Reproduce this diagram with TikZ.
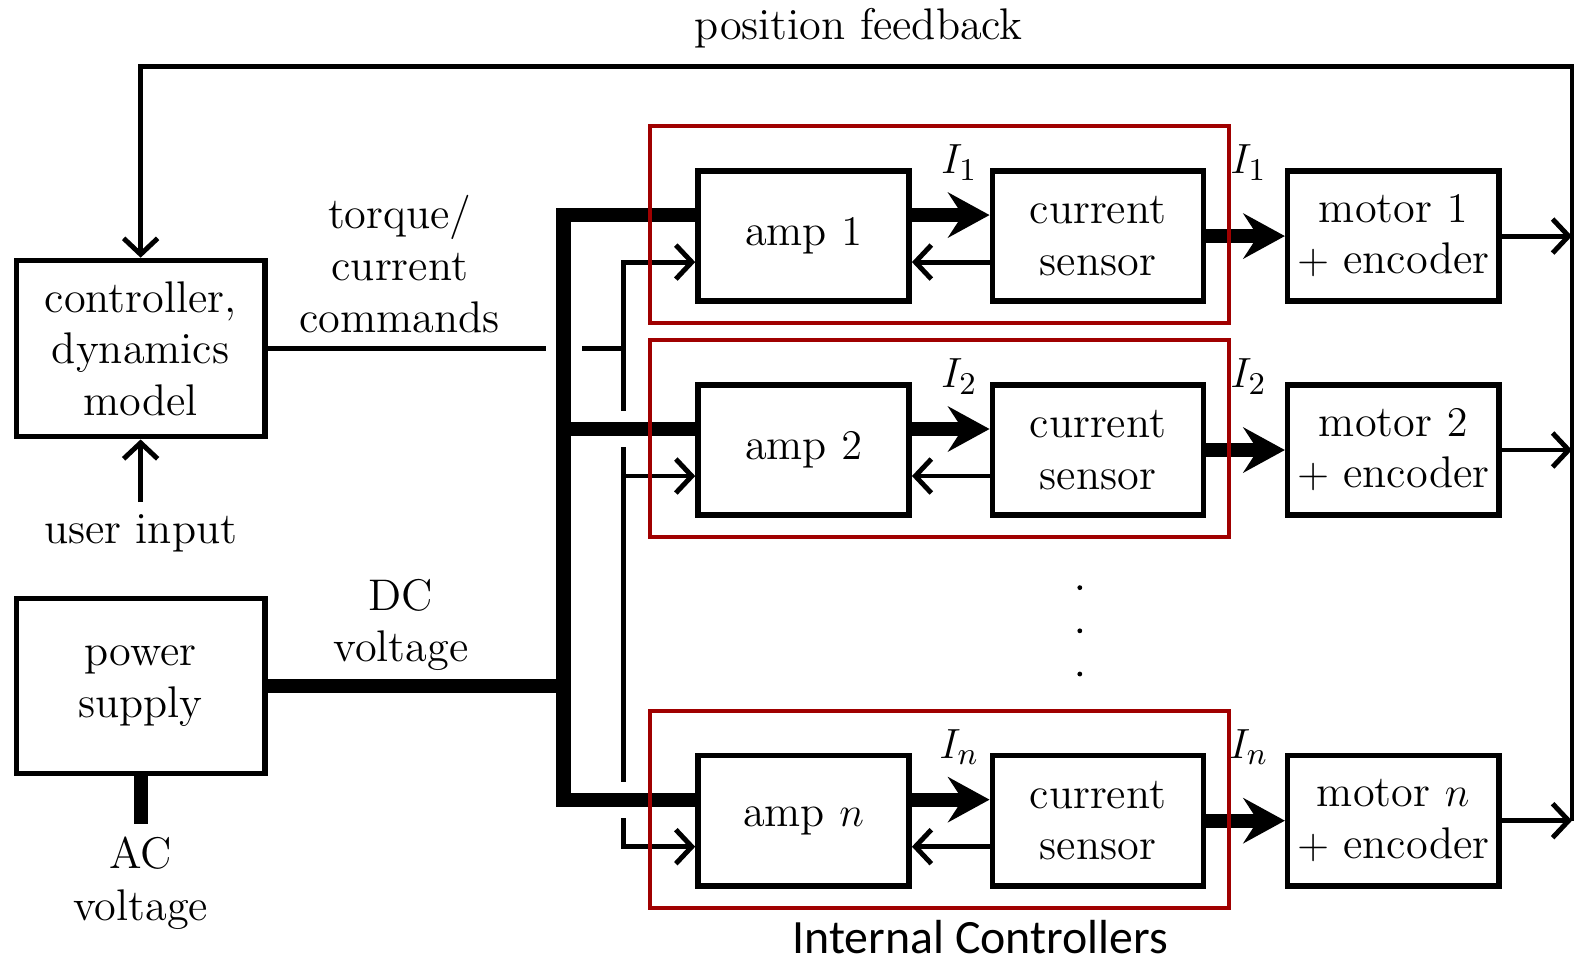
\documentclass[tikz,border=0pt]{standalone}
\usepackage{fontspec}
\newfontfamily\labelfont{Carlito}
\usetikzlibrary{arrows.meta}
\definecolor{boxred}{RGB}{160,0,0}

\begin{document}
\begin{tikzpicture}[x=0.0100446cm, y=-0.0100446cm, font=\fontsize{12.6}{14.7}\selectfont,
  >={Straight Barb[length=1.6mm,width=3.4mm]},
  block/.style={draw, line width=1.6pt, minimum width=2.11cm, minimum height=1.30cm, align=center, inner sep=1pt},
  sig/.style={line width=1.4pt},
  bus/.style={line width=4pt},
  halo/.style={preaction={draw, white, line width=3.6mm}},
  fat/.style={bus, -{Stealth[length=4.2mm,width=4.6mm,inset=1.5mm,line width=0pt]}},
  ctrlbox/.style={draw=boxred, line width=1.1pt}]
  \useasboundingbox (0,0) rectangle (1568,957);

  \node[block, minimum width=2.48cm, minimum height=1.76cm] (ctrl) at (140,347) {controller,\\dynamics\\model};
  \node[block, minimum width=2.48cm, minimum height=1.75cm] (ps) at (140,683) {power\\supply};
  \node (user) at (140,531) {user input};
  \node[align=center] (ac) at (140,879) {AC\\voltage};
  \node[align=center] (cmdlbl) at (398,263) {torque/\\current\\commands};
  \node[align=center] (dclbl) at (399,622) {DC\\voltage};
  \node (fblbl) at (855,28) {position feedback};

  \coordinate (busx) at (561,0);
  \coordinate (cmdx) at (621,0);
  \coordinate (fbtop) at (1565,66);

  \foreach \r/\y/\k in {1/235/1, 2/448/2, n/817/n} {
    \node[block] (amp\r) at (800,\y) {amp $\k$};
    \node[block] (cs\r) at (1093,\y) {current\\sensor};
    \node[block] (mot\r) at (1387,\y) {motor $\k$\\$+$ encoder};
    \node (ia\r) at (955,\y-73) {$I_\k$};
    \node (ib\r) at (1243,\y-73) {$I_\k$};
    \coordinate (pin\r) at ([yshift=2.1mm]amp\r.west);
    \coordinate (bk\r) at ([yshift=-2.6mm]amp\r.west);
  }

  % torque commands
  \draw[sig] (ctrl.east) -- (ctrl.east -| cmdx);
  \draw[sig,<->] (bk1) -| (bkn -| cmdx) -- (bkn);
  \draw[sig,->] (bk2 -| cmdx) -- (bk2);

  % DC bus
  \draw[bus, halo] (pin1) -| (pinn -| busx) -- (pinn) (pin2 -| busx) -- (pin2);
  \draw[bus] (ps.east) -- (ps.east -| busx);
  \draw[bus] (ps.south) -- (ac.north);

  \foreach \r in {1,2,n} {
    \draw[fat] (pin\r -| amp\r.east) -- (pin\r -| cs\r.west);
    \draw[sig,->] (bk\r -| cs\r.west) -- (bk\r -| amp\r.east);
    \draw[fat] (cs\r) -- (mot\r);
    \draw[sig,->] (mot\r) -- (mot\r -| fbtop);
  }
  \draw[sig,->] (motn -| fbtop) -- (fbtop) -| (ctrl.north);
  \draw[sig,->] (user) -- (ctrl);

  \foreach \d in {585,628,671}
    \fill (1075,\d) circle (2.4);

  \foreach \r in {1,2,n}
    \draw[ctrlbox] ([shift={(-45,-42)}]amp\r.north west) rectangle ([shift={(23,19)}]cs\r.south east);
  \node[font=\labelfont\fontsize{13.6}{16}\selectfont] (intlbl) at (976,933) {Internal Controllers};
\end{tikzpicture}
\end{document}
